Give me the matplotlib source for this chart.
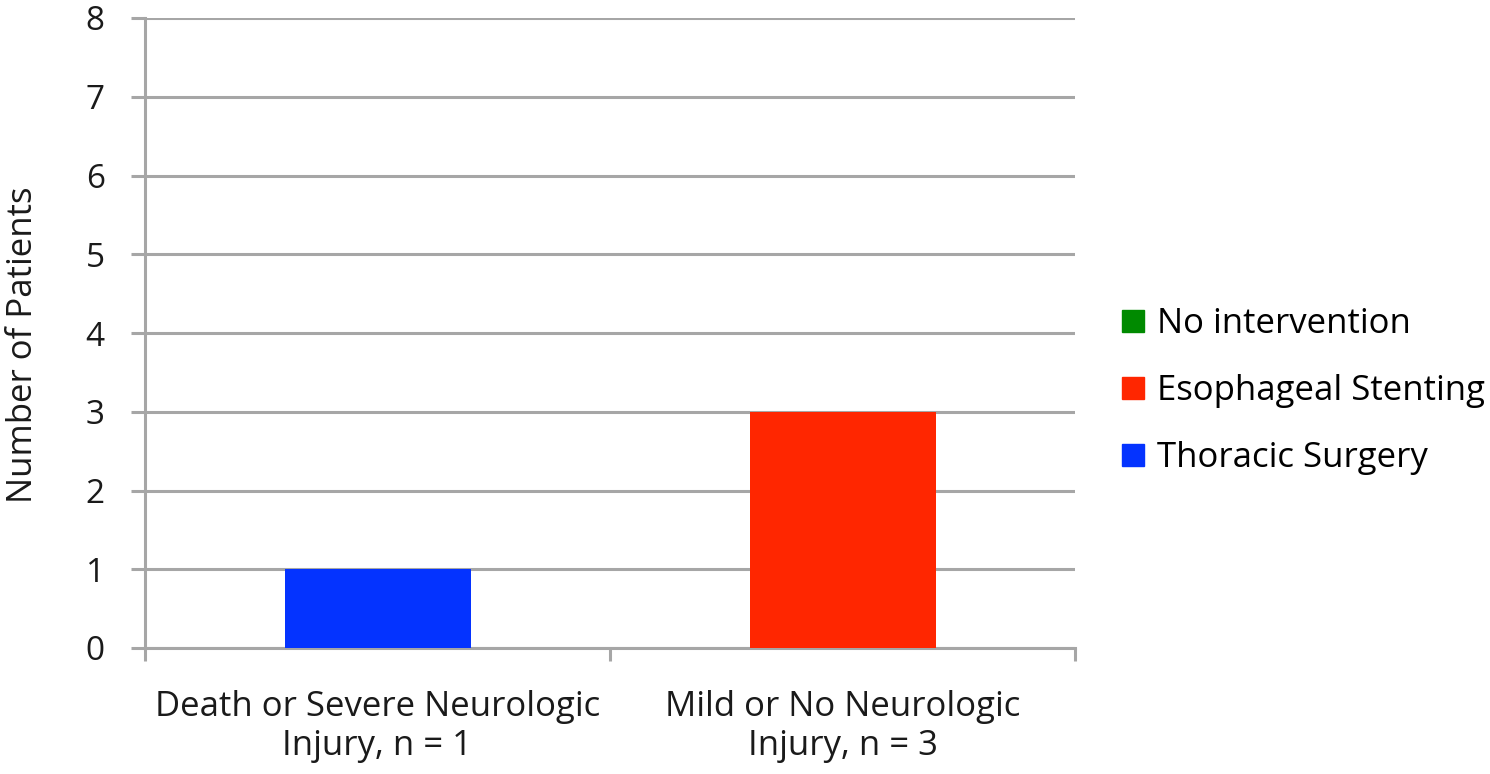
import numpy as np
import matplotlib.pyplot as plt
from matplotlib.lines import Line2D

plt.rcParams['font.family'] = ['Open Sans', 'DejaVu Sans']

categories = ["Death or Severe Neurologic\nInjury, n = 1",
              "Mild or No Neurologic\nInjury, n = 3"]
thoracic_surgery = [1, 0]
esophageal_stenting = [0, 3]
no_intervention = [0, 0]
y_ticks = [0, 1, 2, 3, 4, 5, 6, 7, 8]

c_thoracic = '#0433ff'
c_stent = '#ff2600'
c_none = '#008a00'
grid_col = '#a6a6a6'
txt_col = '#1a1a1a'


def main():
    fig = plt.figure(figsize=(14.9, 7.74), dpi=100)
    ax = fig.add_axes([145 / 1490, 1 - 648 / 774, 930 / 1490, 630 / 774])

    x = np.arange(len(categories))
    w = 0.4
    base = np.zeros(len(categories))
    # stacked bars, bottom to top
    for vals, col in [(thoracic_surgery, c_thoracic),
                      (esophageal_stenting, c_stent),
                      (no_intervention, c_none)]:
        ax.bar(x, vals, w, bottom=base, color=col, zorder=3)
        base = base + np.array(vals)

    ax.set_xlim(-0.5, len(categories) - 0.5)
    ax.set_ylim(0, 8)
    ax.set_yticks(y_ticks)
    ax.set_yticklabels([str(v) for v in y_ticks])
    ax.set_xticks(x)
    ax.set_xticklabels(categories, fontsize=25, color=txt_col,
                       linespacing=1.2)
    ax.set_xticks(np.arange(-0.5, len(categories)), minor=True)

    ax.tick_params(axis='x', which='major', length=0, pad=30)
    ax.tick_params(axis='x', which='minor', length=9, width=2.2,
                   color=grid_col)
    ax.tick_params(axis='y', length=10, width=2.2, color=grid_col,
                   labelsize=24, pad=19, labelcolor=txt_col)

    ax.yaxis.grid(True, color=grid_col, linewidth=2.2, zorder=0)
    for s in ['top', 'right']:
        ax.spines[s].set_visible(False)
    for s in ['left', 'bottom']:
        ax.spines[s].set_color(grid_col)
        ax.spines[s].set_linewidth(2.2)
    ax.set_axisbelow(True)

    fig.text(23 / 1490, 1 - 345 / 774, 'Number of Patients', fontsize=25,
             color=txt_col, rotation=90, ha='center', va='center')

    handles = [Line2D([], [], marker='s', ls='none', color=c, markersize=16)
               for c in [c_none, c_stent, c_thoracic]]
    labels = ['No intervention', 'Esophageal Stenting', 'Thoracic Surgery']
    ax.legend(handles, labels, loc='center left', bbox_to_anchor=(1.036, 0.408),
              frameon=False, fontsize=25, handlelength=0.6,
              handletextpad=0.4, labelspacing=0.95, borderaxespad=0)

    fig.savefig('out.png', dpi=100, facecolor='white')


if __name__ == '__main__':
    main()
